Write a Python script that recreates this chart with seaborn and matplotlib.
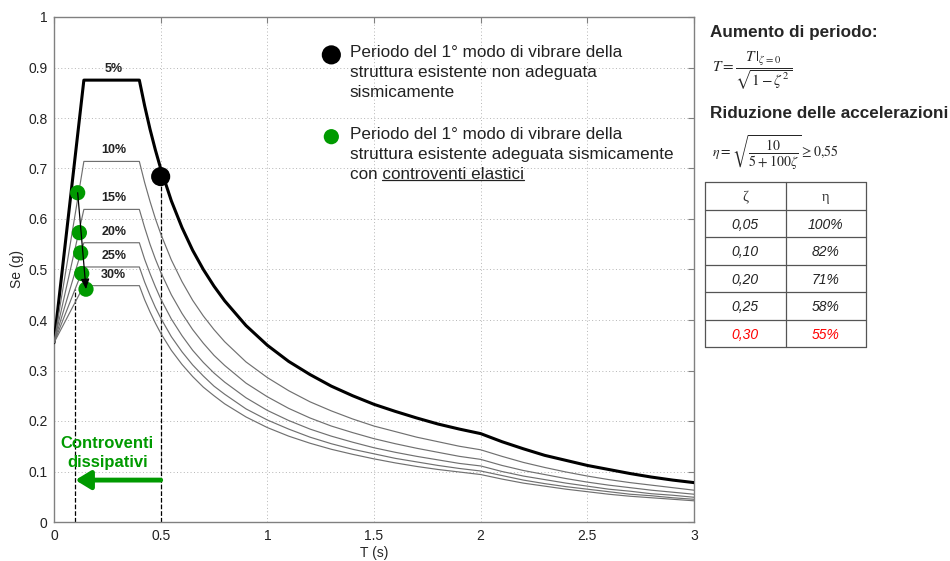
import pandas as pd
import matplotlib.pyplot as plt
import seaborn as sns
from matplotlib.lines import Line2D
from matplotlib.transforms import IdentityTransform
from matplotlib.ticker import MultipleLocator, FormatStrFormatter

# Spettri elastici per diversi smorzamenti
T = [0, 0.14, 0.4, 0.425, 0.45, 0.475, 0.5, 0.55, 0.6, 0.65, 0.7, 0.75, 0.8, 0.9,
     1.0, 1.1, 1.2, 1.3, 1.4, 1.5, 1.6, 1.7, 1.8, 1.9, 2.0, 2.1, 2.2, 2.3, 2.4, 2.5,
     2.6, 2.7, 2.8, 2.9, 3.0]
se_05 = [0.355, 0.875, 0.875, 0.824, 0.778, 0.737, 0.700, 0.636, 0.583, 0.538, 0.500,
         0.467, 0.438, 0.389, 0.350, 0.318, 0.292, 0.269, 0.250, 0.233, 0.219, 0.206,
         0.194, 0.184, 0.175, 0.159, 0.145, 0.132, 0.122, 0.112, 0.104, 0.096, 0.089,
         0.083, 0.078]
se_10 = [0.355, 0.714, 0.714, 0.672, 0.635, 0.601, 0.571, 0.519, 0.476, 0.439, 0.408,
         0.381, 0.357, 0.317, 0.286, 0.260, 0.238, 0.220, 0.204, 0.190, 0.179, 0.168,
         0.159, 0.150, 0.143, 0.130, 0.118, 0.108, 0.099, 0.091, 0.084, 0.078, 0.073,
         0.068, 0.063]
se_15 = [0.355, 0.619, 0.619, 0.583, 0.550, 0.521, 0.495, 0.450, 0.413, 0.381, 0.354,
         0.330, 0.310, 0.275, 0.248, 0.225, 0.206, 0.190, 0.177, 0.165, 0.155, 0.146,
         0.138, 0.130, 0.124, 0.112, 0.102, 0.094, 0.086, 0.079, 0.073, 0.068, 0.063,
         0.059, 0.055]
se_20 = [0.355, 0.553, 0.553, 0.520, 0.492, 0.466, 0.442, 0.402, 0.369, 0.340, 0.316,
         0.295, 0.277, 0.246, 0.221, 0.201, 0.184, 0.170, 0.158, 0.147, 0.138, 0.130,
         0.123, 0.116, 0.111, 0.100, 0.091, 0.084, 0.077, 0.071, 0.065, 0.061, 0.056,
         0.053, 0.049]
se_25 = [0.355, 0.505, 0.505, 0.475, 0.449, 0.425, 0.404, 0.367, 0.337, 0.311, 0.289,
         0.269, 0.253, 0.224, 0.202, 0.184, 0.168, 0.155, 0.144, 0.135, 0.126, 0.119,
         0.112, 0.106, 0.101, 0.092, 0.083, 0.076, 0.070, 0.065, 0.060, 0.055, 0.052,
         0.048, 0.045]
se_30 = [0.355, 0.468, 0.468, 0.440, 0.416, 0.394, 0.374, 0.340, 0.312, 0.288, 0.267,
         0.250, 0.234, 0.208, 0.187, 0.170, 0.156, 0.144, 0.134, 0.125, 0.117, 0.110,
         0.104, 0.099, 0.094, 0.085, 0.077, 0.071, 0.065, 0.060, 0.055, 0.051, 0.048,
         0.045, 0.042]
smorzamenti = ['5%', '10%', '15%', '20%', '25%', '30%']
spettri = [se_05, se_10, se_15, se_20, se_25, se_30]

# Periodi della struttura
T_nero = [0.5]
se_nero = [0.684]
T_verde = [0.111, 0.119, 0.125, 0.130, 0.150]
se_verde = [0.652, 0.573, 0.533, 0.492, 0.461]
T_dissipativi = [0.5, 0.1]

# Tabella
zeta_tab = ['0,05', '0,10', '0,20', '0,25', '0,30']
eta_tab = ['100%', '82%', '71%', '58%', '55%']

verde = '#009a00'
testo = '#222222'

df = pd.DataFrame({
    'T': T * len(smorzamenti),
    'Se': sum(spettri, []),
    'zeta': [s for s in smorzamenti for _ in T],
})

sns.set_style('white')
plt.rcParams['font.family'] = ['Liberation Sans', 'DejaVu Sans']
plt.rcParams['mathtext.fontset'] = 'stix'

fig = plt.figure(figsize=(9.5, 5.61), dpi=100)
ax = fig.add_axes([54 / 950, 39 / 561, 640 / 950, 505 / 561])

palette = {s: ('black' if s == '5%' else '#707070') for s in smorzamenti}
sizes = {s: (2.2 if s == '5%' else 0.85) for s in smorzamenti}
sns.lineplot(data=df, x='T', y='Se', hue='zeta', size='zeta', palette=palette,
             sizes=sizes, legend=False, sort=False, ax=ax, zorder=3)

# etichette smorzamento
for s, v in zip(smorzamenti, spettri):
    ax.text(0.28, v[2] + 0.022, s, fontsize=9, fontweight='bold', ha='center',
            va='center', color=testo)

# linee tratteggiate
ax.plot([T_nero[0], T_nero[0]], [0, se_nero[0]], ls='--', color='black', lw=0.9, zorder=2)
ax.plot([T_dissipativi[1], T_dissipativi[1]], [0, se_verde[-1]], ls='--', color='black',
        lw=0.9, zorder=2)

sns.scatterplot(x=T_nero, y=se_nero, color='black', s=190, edgecolor='none', ax=ax, zorder=5)
sns.scatterplot(x=T_verde, y=se_verde, color=verde, s=120, edgecolor='none', ax=ax, zorder=5)

ax.annotate('', xy=(T_verde[-1], se_verde[-1]), xytext=(T_verde[0], se_verde[0]),
            arrowprops=dict(arrowstyle='-|>,head_length=0.6,head_width=0.25', color='black',
                            lw=0.9, shrinkA=0, shrinkB=0), zorder=6)
ax.annotate('', xy=(T_dissipativi[1], 0.083), xytext=(T_dissipativi[0], 0.083),
            arrowprops=dict(arrowstyle='-|>,head_length=0.9,head_width=0.55', color=verde,
                            lw=3.5, shrinkA=0, shrinkB=0), zorder=6)
ax.text(0.25, 0.137, 'Controventi\ndissipativi', color=verde, fontsize=12,
        fontweight='bold', ha='center', va='center', linespacing=1.3)

# legenda manuale
ax.scatter([1.30], [0.925], s=190, color='black', edgecolor='none', zorder=5)
ax.scatter([1.30], [0.763], s=120, color=verde, edgecolor='none', zorder=5)
ax.text(1.387, 0.945, 'Periodo del 1° modo di vibrare della\nstruttura esistente non adeguata\nsismicamente',
        fontsize=12.3, va='top', ha='left', linespacing=1.43, color=testo)
txt_verde = ax.text(1.387, 0.783,
                    'Periodo del 1° modo di vibrare della\nstruttura esistente adeguata sismicamente\ncon controventi elastici',
                    fontsize=12.3, va='top', ha='left', linespacing=1.43, color=testo)

ax.set_xlim(0, 3)
ax.set_ylim(0, 1)
ax.xaxis.set_major_locator(MultipleLocator(0.5))
ax.yaxis.set_major_locator(MultipleLocator(0.1))
ax.xaxis.set_major_formatter(FormatStrFormatter('%g'))
ax.yaxis.set_major_formatter(FormatStrFormatter('%g'))
ax.grid(True, color='#b5b5b5', lw=0.7, ls=(0, (1, 2.5)))
ax.tick_params(direction='in', length=4, width=0.8, color='#808080', top=True, right=True,
               labelsize=10, labelcolor=testo)
ax.tick_params(axis='y', pad=4.5)
ax.tick_params(axis='x', pad=5)
for sp in ax.spines.values():
    sp.set_color('#808080')
    sp.set_linewidth(1)
ax.set_xlabel('T (s)', fontsize=10, labelpad=2)
ax.set_ylabel('Se (g)', fontsize=10, labelpad=3)

# pannello a destra
fig.text(710 / 950, 1 - 33 / 561, 'Aumento di periodo:', fontsize=12.3, fontweight='bold',
         va='center', ha='left')
fig.text(712 / 950, 1 - 71 / 561, r'$T=\dfrac{T\,|_{\zeta=0}}{\sqrt{1-\zeta^{2}}}$',
         fontsize=11, va='center', ha='left')
fig.text(710 / 950, 1 - 114 / 561, 'Riduzione delle accelerazioni', fontsize=12.3,
         fontweight='bold', va='center', ha='left')
fig.text(712 / 950, 1 - 153 / 561, r'$\eta=\sqrt{\dfrac{10}{5+100\zeta}}\geq 0{,}55$',
         fontsize=10, va='center', ha='left')

tab = fig.add_axes([705 / 950, 1 - 347 / 561, 161 / 950, 165 / 561])
tab.set_xlim(0, 2)
tab.set_ylim(0, 6)
tab.axis('off')
for k in range(7):
    tab.plot([0, 2], [k, k], color='#555555', lw=0.9, clip_on=False)
for xv in [0, 1, 2]:
    tab.plot([xv, xv], [0, 6], color='#555555', lw=0.9, clip_on=False)
tab.text(0.5, 5.5, 'ζ', family=['Liberation Serif', 'DejaVu Serif'], fontsize=10.5,
         ha='center', va='center_baseline', color='#333333')
tab.text(1.5, 5.5, 'η', family=['Liberation Serif', 'DejaVu Serif'], fontsize=10.5,
         ha='center', va='center_baseline', color='#333333')
for i, (z, e) in enumerate(zip(zeta_tab, eta_tab)):
    c = 'red' if i == len(zeta_tab) - 1 else testo
    tab.text(0.5, 4.5 - i, z, fontsize=10, style='italic', ha='center',
             va='center_baseline', color=c)
    tab.text(1.5, 4.5 - i, e, fontsize=10, style='italic', ha='center',
             va='center_baseline', color=c)

# sottolineatura "controventi elastici"
fig.canvas.draw()
r = fig.canvas.get_renderer()
bb = txt_verde.get_window_extent(r)


def larghezza(s):
    t = fig.text(0, 0, s, fontsize=12.3)
    w = t.get_window_extent(r).width
    t.remove()
    return w


x1 = bb.x0 + larghezza('con controventi elastici')
x0 = x1 - larghezza('controventi elastici')
fig.add_artist(Line2D([x0, x1], [bb.y0 + 2, bb.y0 + 2], transform=IdentityTransform(),
                      color=testo, lw=0.9))

fig.savefig('out.png', dpi=100)
